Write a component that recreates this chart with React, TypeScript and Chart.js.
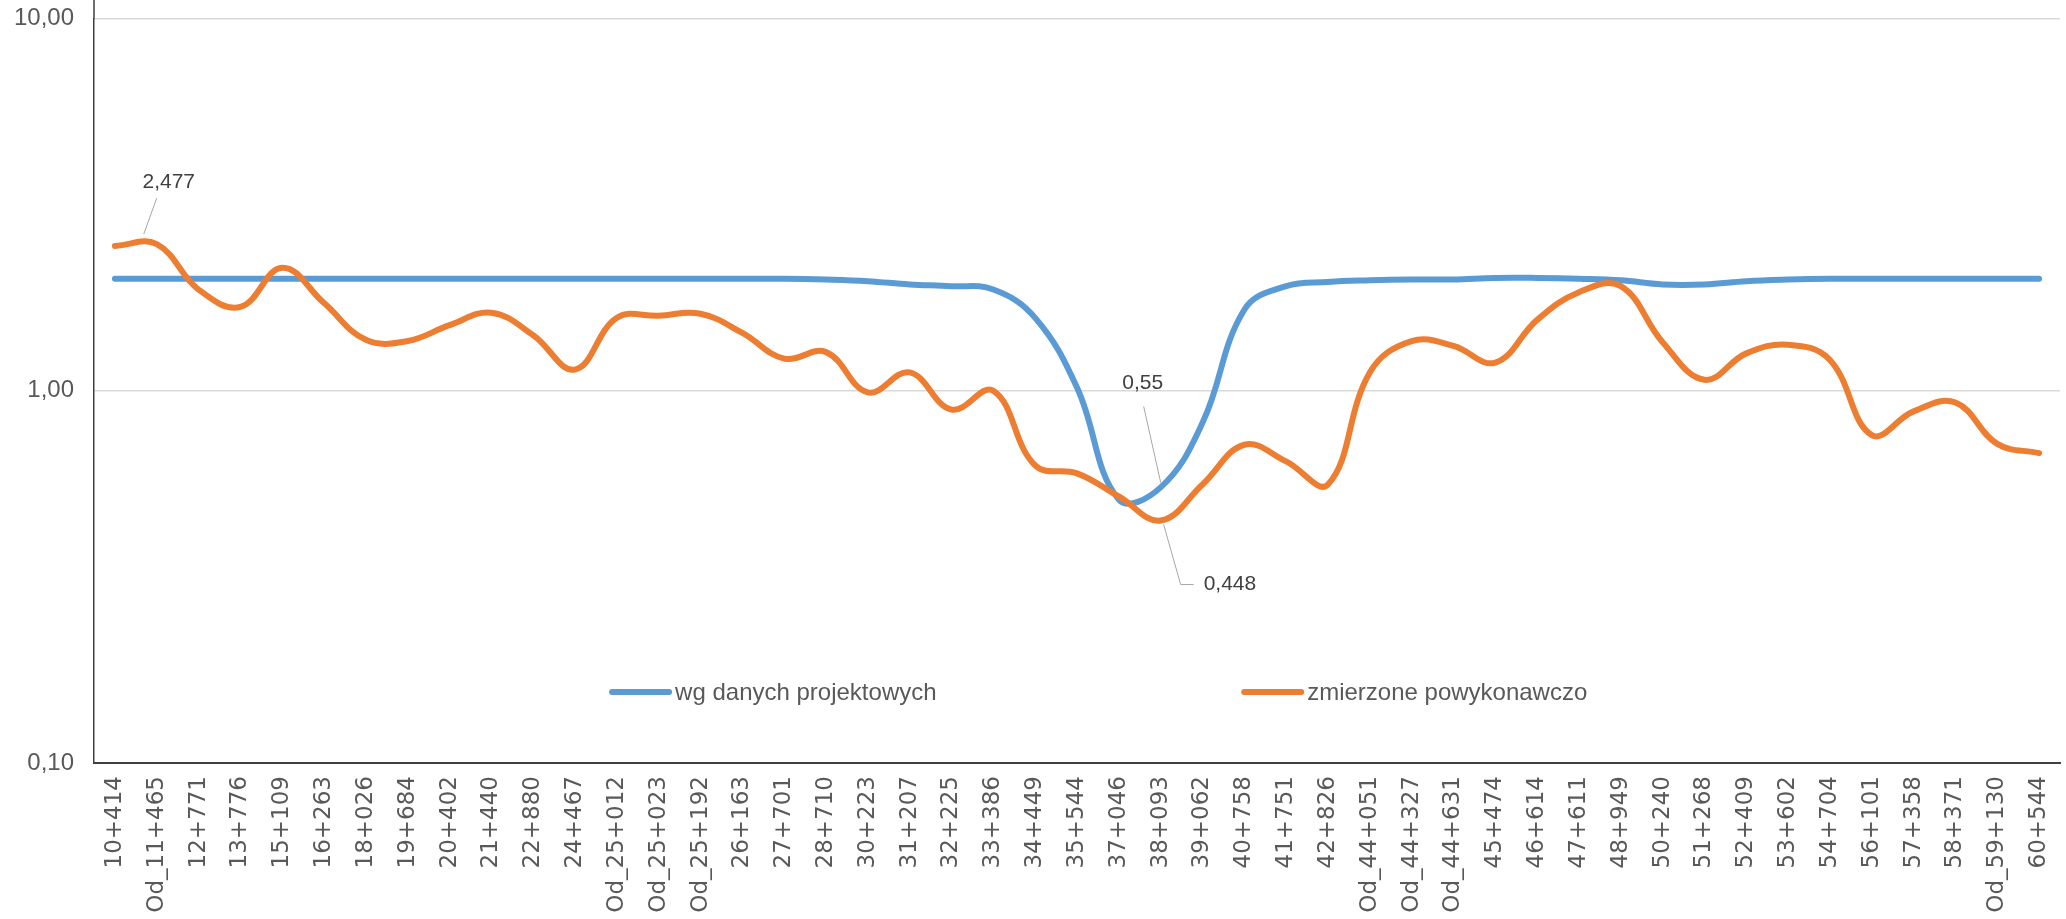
import { useEffect, useRef } from "react";
import { Chart, registerables } from "chart.js";

Chart.register(...registerables);

// Chainage labels along the route
const categories: string[] = [
  "10+414", "Od_11+465", "12+771", "13+776", "15+109", "16+263", "18+026", "19+684",
  "20+402", "21+440", "22+880", "24+467", "Od_25+012", "Od_25+023", "Od_25+192", "26+163",
  "27+701", "28+710", "30+223", "31+207", "32+225", "33+386", "34+449", "35+544",
  "37+046", "38+093", "39+062", "40+758", "41+751", "42+826", "Od_44+051", "Od_44+327",
  "Od_44+631", "45+474", "46+614", "47+611", "48+949", "50+240", "51+268", "52+409",
  "53+602", "54+704", "56+101", "57+358", "58+371", "Od_59+130", "60+544",
];

// Design values
const designValues: number[] = [
  2.0, 2.0, 2.0, 2.0, 2.0, 2.0, 2.0, 2.0,
  2.0, 2.0, 2.0, 2.0, 2.0, 2.0, 2.0, 2.0,
  2.0, 1.99, 1.97, 1.93, 1.91, 1.87, 1.57, 1.02,
  0.51, 0.55, 0.82, 1.65, 1.91, 1.96, 1.98, 1.99,
  1.99, 2.01, 2.01, 2.0, 1.98, 1.93, 1.93, 1.97,
  1.99, 2.0, 2.0, 2.0, 2.0, 2.0, 2.0,
];

// As-built measured values
const measuredValues: number[] = [
  2.45, 2.477, 1.87, 1.68, 2.14, 1.72, 1.37, 1.36,
  1.5, 1.62, 1.41, 1.14, 1.57, 1.59, 1.61, 1.43,
  1.22, 1.27, 0.99, 1.12, 0.89, 1.0, 0.63, 0.6,
  0.52, 0.448, 0.56, 0.716, 0.646, 0.56, 1.12, 1.36,
  1.32, 1.19, 1.55, 1.84, 1.91, 1.35, 1.07, 1.26,
  1.33, 1.21, 0.76, 0.88, 0.93, 0.72, 0.68,
];

const yTickValues: number[] = [0.1, 1, 10];

const seriesNames: string[] = ["wg danych projektowych", "zmierzone powykonawczo"];
const seriesColors: string[] = ["#5B9BD5", "#ED7D31"];

const TEXT_COLOR = "#595959";
const AXIS_COLOR = "#3f3f3f";
const LABEL_FONT = "'Liberation Sans', Arial, sans-serif";

const commaNumber = (v: number) => String(v).replace(".", ",");

// Value callouts: which point, where the text sits and how the leader line runs
type Callout = {
  dataset: number;
  index: number;
  textAt: [number, number];
  align: CanvasTextAlign;
  leader: [number, number][];
};

const callouts: Callout[] = [
  { dataset: 1, index: 1, textAt: [12, -62], align: "center", leader: [[0, -46], [-13, -10]] },
  { dataset: 0, index: 25, textAt: [-18, -104], align: "center", leader: [[-17, -81], [0, -5]] },
  { dataset: 1, index: 25, textAt: [43, 64], align: "left", leader: [[33, 64], [20, 64], [3, 4]] },
];

const calloutPlugin = {
  id: "valueCallouts",
  afterDatasetsDraw(chart: any) {
    const ctx: CanvasRenderingContext2D = chart.ctx;
    ctx.save();
    for (const c of callouts) {
      const el = chart.getDatasetMeta(c.dataset).data[c.index];
      if (!el) continue;
      const value = chart.data.datasets[c.dataset].data[c.index] as number;
      const px = el.x;
      const py = el.y;
      ctx.strokeStyle = "#a6a6a6";
      ctx.lineWidth = 1;
      ctx.beginPath();
      c.leader.forEach(([dx, dy], i) => {
        if (i === 0) ctx.moveTo(px + dx, py + dy);
        else ctx.lineTo(px + dx, py + dy);
      });
      ctx.stroke();
      ctx.fillStyle = "#404040";
      ctx.font = `21px ${LABEL_FONT}`;
      ctx.textAlign = c.align;
      ctx.textBaseline = "middle";
      ctx.fillText(commaNumber(value), px + c.textAt[0], py + c.textAt[1]);
    }
    ctx.restore();
  },
};

// Legend drawn inside the plot area, near its lower edge; the value axis line runs to the top edge
const inlineLegendPlugin = {
  id: "inlineLegend",
  afterDraw(chart: any) {
    const ctx: CanvasRenderingContext2D = chart.ctx;
    const area = chart.chartArea;
    const w = area.right - area.left;
    const y = area.top + (area.bottom - area.top) * 0.9046;
    const starts = [area.left + w * 0.262, area.left + w * 0.5835];
    ctx.save();
    ctx.strokeStyle = AXIS_COLOR;
    ctx.lineWidth = 1.5;
    ctx.beginPath();
    ctx.moveTo(area.left, 0);
    ctx.lineTo(area.left, area.top);
    ctx.stroke();

    ctx.font = `24px ${LABEL_FONT}`;
    ctx.textBaseline = "middle";
    ctx.textAlign = "left";
    seriesNames.forEach((name, i) => {
      const x0 = starts[i];
      ctx.strokeStyle = seriesColors[i];
      ctx.lineWidth = 6;
      ctx.lineCap = "round";
      ctx.beginPath();
      ctx.moveTo(x0 + 3, y);
      ctx.lineTo(x0 + 60, y);
      ctx.stroke();
      ctx.fillStyle = TEXT_COLOR;
      ctx.fillText(name, x0 + 66, y + 1);
    });
    ctx.restore();
  },
};

export default function App() {
  const canvasRef = useRef<HTMLCanvasElement | null>(null);

  useEffect(() => {
    const canvas = canvasRef.current;
    if (!canvas) return;
    const chart = new Chart(canvas, {
      type: "line",
      data: {
        labels: categories,
        datasets: [
          {
            label: seriesNames[0],
            data: designValues,
            borderColor: seriesColors[0],
            backgroundColor: seriesColors[0],
            borderWidth: 6,
            pointRadius: 0,
            tension: 0.4,
            borderCapStyle: "round",
            borderJoinStyle: "round",
            order: 1,
          },
          {
            label: seriesNames[1],
            data: measuredValues,
            borderColor: seriesColors[1],
            backgroundColor: seriesColors[1],
            borderWidth: 6,
            pointRadius: 0,
            tension: 0.4,
            borderCapStyle: "round",
            borderJoinStyle: "round",
            order: 0,
          },
        ],
      },
      options: {
        animation: false,
        responsive: true,
        maintainAspectRatio: false,
        layout: { padding: { top: 18.5, right: 6, left: 0, bottom: 0 } },
        plugins: {
          legend: { display: false },
          tooltip: { enabled: false },
        },
        scales: {
          x: {
            type: "category",
            offset: true,
            grid: { display: false, drawTicks: false },
            border: { display: true, color: AXIS_COLOR, width: 2 },
            ticks: {
              autoSkip: false,
              minRotation: 90,
              maxRotation: 90,
              padding: 13,
              color: TEXT_COLOR,
              font: { family: "'DejaVu Sans', Verdana, sans-serif", size: 23 },
            },
            afterFit(scale: any) {
              scale.height = 156;
              scale.paddingLeft = 0;
              scale.paddingRight = 0;
            },
          },
          y: {
            type: "logarithmic",
            min: 0.1,
            max: 10,
            grid: { color: "#d9d9d9", lineWidth: 1.5, drawTicks: false },
            border: { display: true, color: AXIS_COLOR, width: 1.5 },
            afterBuildTicks(scale: any) {
              scale.ticks = yTickValues.map((v) => ({ value: v }));
            },
            ticks: {
              padding: 20,
              color: TEXT_COLOR,
              font: { family: LABEL_FONT, size: 24 },
              callback: (v: any) => Number(v).toFixed(2).replace(".", ","),
            },
            afterFit(scale: any) {
              scale.width = 94;
              scale.paddingTop = 0;
              scale.paddingBottom = 0;
            },
          },
        },
      },
      plugins: [calloutPlugin, inlineLegendPlugin],
    });
    return () => chart.destroy();
  }, []);

  return (
    <div style={{ position: "fixed", left: 0, top: 0, width: 2066, height: 919, background: "#ffffff" }}>
      <canvas ref={canvasRef} />
    </div>
  );
}
